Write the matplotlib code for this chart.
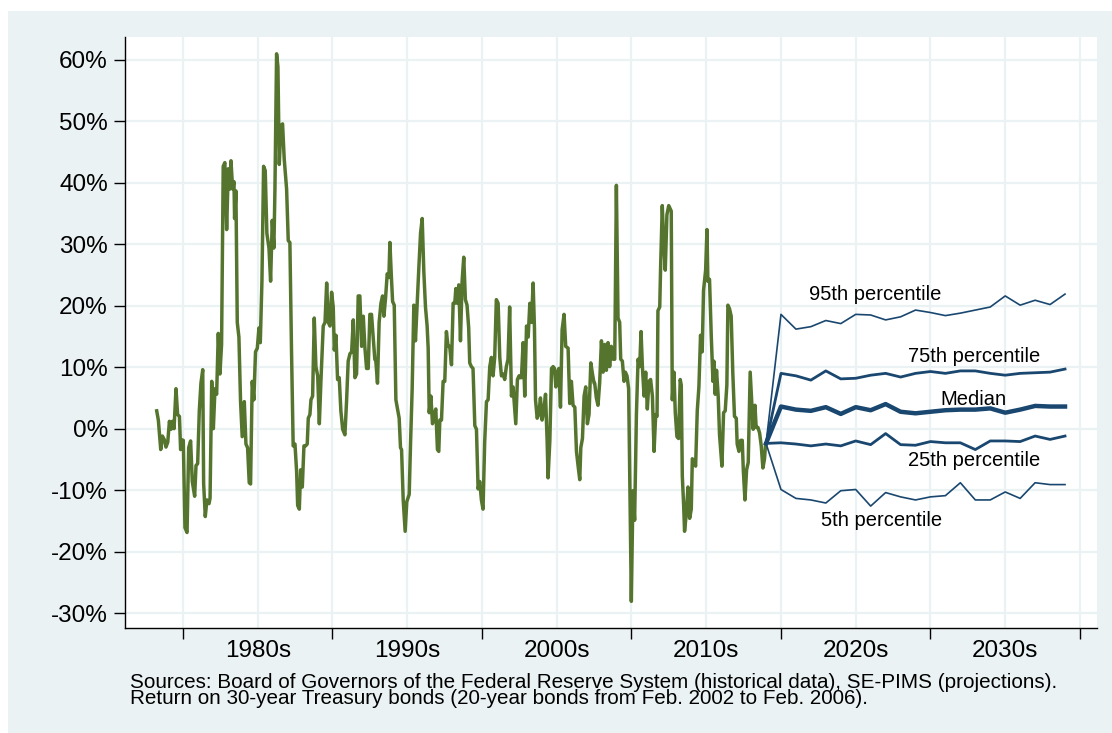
import matplotlib
matplotlib.use("Agg")
import matplotlib.pyplot as plt
from matplotlib.patches import Rectangle

plt.rcParams['font.family'] = ['Liberation Sans', 'DejaVu Sans']

# ---------------- historical data (annual return, %) ----------------
years_a = [1973.24,1973.35,1973.51,1973.62,1973.75,1973.86,1973.98,1974.09,1974.20,1974.29,1974.40,1974.53,1974.64,
           1974.76,1974.84,1974.91,1975.02,1975.13,1975.27,1975.38,1975.51,1975.62,1975.78,1975.87,1975.98,1976.09,
           1976.20,1976.32,1976.38,1976.49,1976.60,1976.74,1976.81,1976.92,1977.03,1977.14,1977.25,1977.36]
ret_a = [2.9,1.4,-3.4,-1.2,-1.8,-3.0,-2.2,1.2,-0.1,1.2,0.0,6.5,2.3,
         2.0,-3.4,-1.8,-1.9,-16.1,-16.9,-3.1,-2.0,-8.6,-11.0,-6.0,-5.7,2.9,
         7.4,9.6,-8.9,-14.3,-11.6,-12.2,-11.3,7.7,0.0,6.5,5.6,15.5]

years_b = [1977.47,1977.58,1977.69,1977.80,1977.92,1978.03,1978.14,1978.21,1978.32,1978.41,1978.45,1978.54,1978.63,
           1978.74,1978.85,1978.96,1979.10,1979.21,1979.32,1979.43,1979.52,1979.63,1979.74,1979.85,1979.97,1980.08,
           1980.17,1980.28,1980.39,1980.50,1980.61,1980.75,1980.86,1980.97,1981.08,1981.15,1981.26,1981.35,1981.44,
           1981.55,1981.66,1981.77,1981.93,1982.04,1982.15,1982.26,1982.37]
ret_b = [8.9,13.7,42.7,43.3,32.4,42.3,39.0,43.6,39.0,40.2,34.2,38.7,17.3,
         14.9,4.4,-1.3,4.4,-2.5,-3.1,-8.8,-9.0,7.7,4.7,12.5,13.1,16.4,
         14.0,24.0,42.7,42.0,31.8,29.4,24.0,33.9,29.4,39.0,61.0,58.9,43.0,
         49.3,49.6,43.9,39.0,30.6,30.3,12.5,-2.8]

years_c = [1982.49,1982.60,1982.67,1982.78,1982.87,1982.98,1983.09,1983.20,1983.31,1983.38,1983.49,1983.56,1983.67,
           1983.78,1983.89,1984.01,1984.12,1984.23,1984.38,1984.50,1984.61,1984.72,1984.83,1984.94,1985.05,1985.12,
           1985.23,1985.34,1985.45,1985.56,1985.68,1985.83,1985.94,1986.05,1986.17,1986.28,1986.39,1986.50,1986.61,
           1986.72,1986.83,1986.95,1987.06,1987.17,1987.28,1987.39]
ret_c = [-2.5,-7.0,-12.5,-13.1,-6.7,-9.5,-2.8,-2.8,-2.5,1.7,2.3,4.7,5.3,
         18.0,10.1,8.6,0.8,8.0,16.7,17.3,23.7,17.3,16.7,22.2,19.8,12.8,
         15.2,8.0,8.3,2.9,-0.1,-1.0,4.4,11.0,12.2,12.5,17.7,8.3,8.9,
         21.6,21.6,13.4,18.3,13.1,9.8,9.8]

years_d = [1987.50,1987.61,1987.72,1987.83,1987.90,1988.01,1988.12,1988.24,1988.35,1988.44,1988.55,1988.66,1988.77,
           1988.84,1988.93,1989.02,1989.13,1989.24,1989.35,1989.46,1989.55,1989.62,1989.73,1989.86,1989.97,1990.13,
           1990.22,1990.33,1990.44,1990.55,1990.66,1990.78,1990.89,1991.00,1991.11,1991.22,1991.33,1991.40,1991.47,
           1991.58,1991.69,1991.80,1991.91,1992.02,1992.11,1992.18,1992.29,1992.40]
ret_d = [18.6,18.6,14.9,11.3,11.0,7.4,17.3,20.4,21.6,18.3,21.3,25.2,24.6,
         30.3,25.2,20.7,20.1,4.7,3.2,1.7,-3.1,-3.4,-11.6,-16.7,-11.9,-10.7,
         -2.5,6.5,20.1,14.3,20.1,26.4,31.8,34.2,25.5,19.8,16.7,13.1,2.6,
         5.3,0.8,2.3,3.2,-3.4,-3.7,1.4,1.4,7.7]

years_e = [1992.51,1992.62,1992.73,1992.84,1992.96,1993.07,1993.18,1993.25,1993.36,1993.45,1993.56,1993.67,1993.78,
           1993.89,1994.00,1994.11,1994.18,1994.29,1994.40,1994.52,1994.63,1994.74,1994.85,1994.96,1995.07,1995.18,
           1995.30,1995.41,1995.52,1995.63,1995.74,1995.85,1995.96,1996.08,1996.19,1996.30,1996.41,1996.52,1996.63,
           1996.74,1996.85,1996.97,1997.08,1997.15,1997.26,1997.37,1997.48]
ret_e = [7.7,15.8,13.4,13.4,10.4,20.4,20.4,22.8,20.4,23.4,14.3,24.0,27.9,
         21.0,20.1,16.4,10.7,10.1,9.8,0.5,-0.1,-9.8,-8.6,-11.6,-13.1,-2.2,
         4.4,4.7,10.1,11.6,8.6,11.6,21.0,20.4,11.6,8.6,8.9,8.0,10.1,
         11.3,19.8,5.3,6.8,4.4,0.8,8.0,8.6]

years_f = [1997.53,1997.64,1997.75,1997.86,1997.98,1998.09,1998.20,1998.31,1998.42,1998.51,1998.58,1998.69,1998.80,
           1998.91,1999.02,1999.13,1999.25,1999.36,1999.42,1999.54,1999.65,1999.76,1999.85,1999.94,2000.03,2000.14,
           2000.25,2000.36,2000.49,2000.60,2000.76,2000.87,2000.98,2001.09,2001.21,2001.32,2001.43,2001.54,2001.61,
           2001.72,2001.83,2001.94,2002.05,2002.16,2002.28,2002.39,2002.50]
ret_f = [8.3,8.3,14.0,5.3,16.7,14.9,20.4,17.3,23.7,16.4,4.7,1.7,2.3,
         5.0,1.4,2.9,5.6,-2.2,-8.0,-1.9,9.8,10.1,9.8,6.8,8.9,9.8,
         3.5,16.1,18.6,13.4,13.1,4.1,7.7,3.8,3.5,-3.7,-6.1,-8.3,-3.1,
         -1.6,5.3,6.8,0.8,2.3,10.7,8.9,7.4]

years_g = [2002.54,2002.65,2002.76,2002.87,2002.99,2003.10,2003.21,2003.32,2003.43,2003.54,2003.65,2003.77,2003.88,
           2003.99,2004.10,2004.21,2004.28,2004.39,2004.50,2004.59,2004.70,2004.81,2004.92,2004.99,2005.10,2005.21,
           2005.33,2005.44,2005.55,2005.64,2005.73,2005.84,2005.95,2006.06,2006.17,2006.28,2006.40,2006.51,2006.62,
           2006.71,2006.77,2006.89,2006.95,2007.06,2007.15,2007.26,2007.37,2007.49]
ret_g = [7.4,5.0,3.8,7.4,14.3,9.2,13.7,9.5,14.0,10.1,13.4,11.3,11.3,
         39.6,18.0,17.3,11.3,11.0,7.7,9.2,8.6,6.5,-14.0,-28.1,-10.1,-14.9,
         2.3,11.3,10.1,15.8,10.1,5.3,9.2,3.2,7.7,8.0,5.3,-3.7,2.3,
         2.0,19.2,19.8,26.4,36.3,30.6,25.8,34.8,36.3]

years_h = [2007.55,2007.66,2007.73,2007.84,2007.93,2008.04,2008.15,2008.26,2008.33,2008.40,2008.49,2008.55,2008.66,
           2008.78,2008.89,2009.00,2009.07,2009.18,2009.29,2009.40,2009.51,2009.62,2009.73,2009.82,2009.96,2010.05,
           2010.11,2010.22,2010.34,2010.45,2010.51,2010.60,2010.69,2010.80,2010.89,2011.05,2011.16,2011.27,2011.38,
           2011.45,2011.56,2011.67,2011.78,2011.89,2012.01,2012.07,2012.19,2012.30,2012.41,2012.48,2012.59,2012.70,
           2012.81,2012.94,2013.05,2013.14,2013.26,2013.34,2013.46,2013.57,2013.68,2013.79,2013.90,2013.97]
ret_h = [36.0,35.4,4.7,9.2,2.6,-1.3,-1.6,8.0,7.1,-7.7,-12.5,-16.7,-14.0,
         -9.5,-14.6,-13.1,-4.9,-5.2,-6.1,2.9,6.8,15.2,12.5,22.5,25.8,32.4,
         24.0,24.3,14.9,7.7,11.0,5.6,9.5,5.3,-1.0,-6.1,2.6,2.9,7.1,
         20.1,19.5,18.3,8.9,2.0,1.7,-2.5,-3.7,-1.9,-1.9,-6.7,-11.6,-6.7,
         -5.5,9.2,4.1,-0.1,3.8,0.2,0.2,-0.7,-2.8,-6.4,-4.9,-2.5]

chunks = [(years_a, ret_a), (years_b, ret_b), (years_c, ret_c), (years_d, ret_d),
          (years_e, ret_e), (years_f, ret_f), (years_g, ret_g), (years_h, ret_h)]
hist_years, hist_returns = [], []
for i, (yy, rr) in enumerate(chunks):
    assert len(yy) == len(rr), f"chunk {i}: {len(yy)} vs {len(rr)}"
    hist_years += yy
    hist_returns += rr

# ---------------- projections (percentiles, %) ----------------
proj_years = list(range(2014, 2035))
p95 = [-2.4, 18.6, 16.2, 16.6, 17.6, 17.1, 18.6, 18.5, 17.7, 18.2, 19.3, 18.9, 18.4, 18.8, 19.3, 19.8, 21.6, 20.1, 20.9, 20.2, 21.9]
p75 = [-2.4, 9.0, 8.6, 7.9, 9.4, 8.1, 8.2, 8.7, 9.0, 8.4, 9.0, 9.3, 9.0, 9.4, 9.4, 9.0, 8.7, 9.0, 9.1, 9.2, 9.7]
p50 = [-2.4, 3.6, 3.1, 2.9, 3.5, 2.4, 3.5, 3.0, 4.0, 2.75, 2.5, 2.75, 3.0, 3.1, 3.1, 3.3, 2.6, 3.1, 3.7, 3.6, 3.6]
p25 = [-2.4, -2.3, -2.5, -2.8, -2.5, -2.8, -2.0, -2.6, -0.8, -2.6, -2.7, -2.1, -2.3, -2.3, -3.4, -2.0, -2.0, -2.1, -1.2, -1.75, -1.2]
p05 = [-2.4, -9.9, -11.35, -11.6, -12.1, -10.1, -9.9, -12.6, -10.4, -11.1, -11.6, -11.1, -10.9, -8.8, -11.6, -11.6, -10.3, -11.35, -8.8, -9.1, -9.1]

label_texts = ["95th percentile", "75th percentile", "Median", "25th percentile", "5th percentile"]
label_x = [2021.3, 2027.9, 2027.9, 2027.9, 2021.7]
label_y = [21.8, 11.8, 4.8, -5.1, -15.0]

y_ticks = [-30, -20, -10, 0, 10, 20, 30, 40, 50, 60]
x_major = [1975, 1985, 1995, 2005, 2015, 2025, 2035]
x_label_pos = [1980, 1990, 2000, 2010, 2020, 2030]
x_labels = ["1980s", "1990s", "2000s", "2010s", "2020s", "2030s"]

footer1 = "Sources: Board of Governors of the Federal Reserve System (historical data), SE-PIMS (projections)."
footer2 = "Return on 30-year Treasury bonds (20-year bonds from Feb. 2002 to Feb. 2006)."

# ---------------- figure ----------------
W, H = 1112, 733
fig = plt.figure(figsize=(W / 100, H / 100), dpi=100)
fig.patch.set_facecolor('white')
bg = Rectangle((8 / W, 0), (W - 8) / W, (H - 11) / H, transform=fig.transFigure,
               facecolor='#EAF2F3', edgecolor='none', zorder=-10)
fig.patches.append(bg)

ax = fig.add_axes([125 / W, (H - 628) / H, 972 / W, 591 / H])
ax.set_zorder(5)
ax.set_facecolor('white')

green = '#55752f'
navy = '#1a476f'

ax.plot(hist_years, hist_returns, color=green, lw=2.5, solid_joinstyle='round', zorder=3)
ax.plot(proj_years, p95, color=navy, lw=1.2, zorder=4)
ax.plot(proj_years, p05, color=navy, lw=1.2, zorder=4)
ax.plot(proj_years, p75, color=navy, lw=2.0, zorder=4)
ax.plot(proj_years, p25, color=navy, lw=2.0, zorder=4)
ax.plot(proj_years, p50, color=navy, lw=3.2, zorder=5)

for t, x, y in zip(label_texts, label_x, label_y):
    ax.text(x, y, t, ha='center', va='center', fontsize=14.5, color='black', zorder=6)

ax.set_xlim(1971.12, 2036.14)
ax.set_ylim(-32.44, 63.74)

ax.set_yticks(y_ticks)
ax.set_yticklabels([f"{v}%" for v in y_ticks])
ax.set_xticks(x_major)
ax.set_xticklabels([""] * len(x_major))
ax.set_xticks(x_label_pos, minor=True)
ax.set_xticklabels(x_labels, minor=True)

ax.tick_params(axis='y', which='major', length=8, width=1.0, pad=4.3, labelsize=17.5, colors='black')
ax.tick_params(axis='x', which='major', length=8, width=1.0, labelsize=17.5)
ax.tick_params(axis='x', which='minor', length=0, pad=8.5, labelsize=17.5)

grid_col = '#EAF2F3'
ax.grid(True, which='major', axis='y', color=grid_col, lw=1.6, zorder=0)
ax.grid(True, which='both', axis='x', color=grid_col, lw=1.6, zorder=0)
ax.set_axisbelow(True)

for s in ['top', 'right']:
    ax.spines[s].set_visible(False)
for s in ['left', 'bottom']:
    ax.spines[s].set_color('black')
    ax.spines[s].set_linewidth(1.0)

fig.text(130 / W, 1 - 687.5 / H, footer1, ha='left', va='baseline', fontsize=14.85)
fig.text(130 / W, 1 - 704.5 / H, footer2, ha='left', va='baseline', fontsize=14.85)

fig.savefig('out.png', dpi=100, facecolor=fig.get_facecolor())
